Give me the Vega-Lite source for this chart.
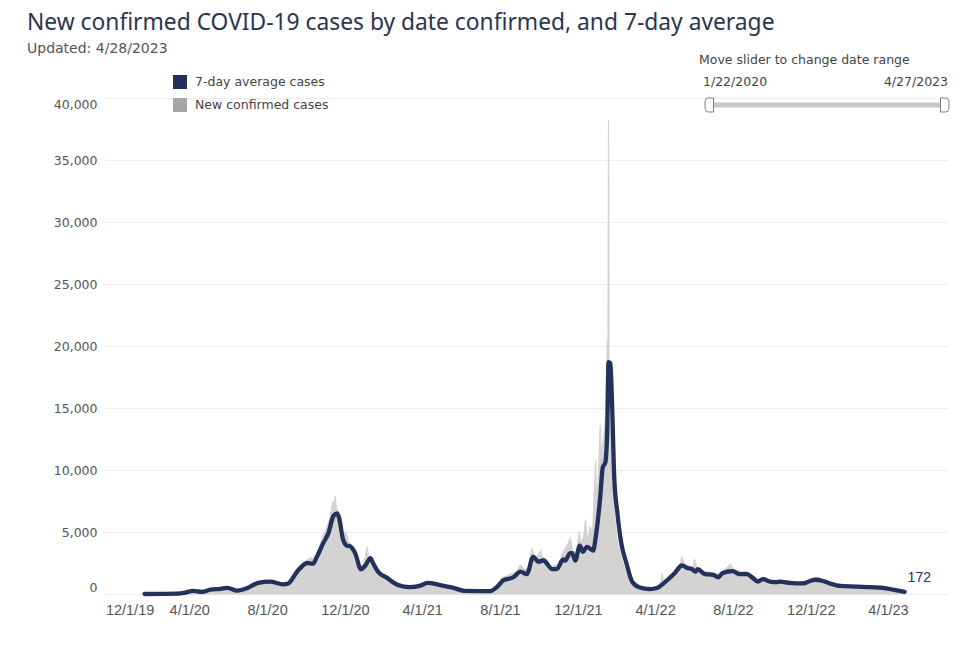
{
  "$schema": "https://vega.github.io/schema/vega-lite/v6.json",
  "width": 843,
  "height": 496,
  "autosize": {"type": "none"},
  "padding": {"left": 105, "top": 98, "right": 32, "bottom": 56},
  "background": "white",
  "title": {
    "text": "New confirmed COVID-19 cases by date confirmed, and 7-day average",
    "subtitle": "Updated: 4/28/2023",
    "anchor": "start",
    "frame": "group",
    "dx": -78,
    "offset": -2,
    "font": "Noto Sans",
    "fontSize": 22.8,
    "fontWeight": "normal",
    "color": "#2a3550",
    "subtitleFont": "DejaVu Sans",
    "subtitleFontSize": 14,
    "subtitleColor": "#555555",
    "subtitlePadding": 7
  },
  "config": {"view": {"stroke": null}},
  "datasets": {
    "daily": [
      {"date": "2020-01-22", "cases": 0}, {"date": "2020-03-10", "cases": 10}, {"date": "2020-03-25", "cases": 80},
      {"date": "2020-04-05", "cases": 320}, {"date": "2020-04-12", "cases": 180}, {"date": "2020-04-20", "cases": 260},
      {"date": "2020-05-01", "cases": 420}, {"date": "2020-05-10", "cases": 380}, {"date": "2020-05-20", "cases": 520},
      {"date": "2020-05-28", "cases": 640}, {"date": "2020-06-05", "cases": 450}, {"date": "2020-06-15", "cases": 330},
      {"date": "2020-06-25", "cases": 520}, {"date": "2020-07-05", "cases": 680}, {"date": "2020-07-12", "cases": 880},
      {"date": "2020-07-20", "cases": 1020}, {"date": "2020-07-28", "cases": 1120}, {"date": "2020-08-05", "cases": 1060},
      {"date": "2020-08-12", "cases": 1000}, {"date": "2020-08-20", "cases": 880}, {"date": "2020-08-28", "cases": 820},
      {"date": "2020-09-03", "cases": 950}, {"date": "2020-09-10", "cases": 1350}, {"date": "2020-09-17", "cases": 2050},
      {"date": "2020-09-24", "cases": 2350}, {"date": "2020-10-01", "cases": 2650}, {"date": "2020-10-08", "cases": 2950},
      {"date": "2020-10-14", "cases": 2750}, {"date": "2020-10-20", "cases": 3450}, {"date": "2020-10-27", "cases": 4600},
      {"date": "2020-11-03", "cases": 5400}, {"date": "2020-11-08", "cases": 6300}, {"date": "2020-11-12", "cases": 7500},
      {"date": "2020-11-13", "cases": 6900}, {"date": "2020-11-16", "cases": 7900}, {"date": "2020-11-17", "cases": 7100},
      {"date": "2020-11-20", "cases": 6600}, {"date": "2020-11-24", "cases": 5400}, {"date": "2020-11-28", "cases": 4500},
      {"date": "2020-12-02", "cases": 5000}, {"date": "2020-12-06", "cases": 4300}, {"date": "2020-12-10", "cases": 4000},
      {"date": "2020-12-15", "cases": 3500}, {"date": "2020-12-20", "cases": 2600}, {"date": "2020-12-26", "cases": 2050},
      {"date": "2020-12-31", "cases": 2600}, {"date": "2021-01-05", "cases": 3800}, {"date": "2021-01-07", "cases": 2900},
      {"date": "2021-01-14", "cases": 2650}, {"date": "2021-01-20", "cases": 2050}, {"date": "2021-01-27", "cases": 1650},
      {"date": "2021-02-05", "cases": 1350}, {"date": "2021-02-15", "cases": 920}, {"date": "2021-02-25", "cases": 680},
      {"date": "2021-03-10", "cases": 620}, {"date": "2021-03-20", "cases": 740}, {"date": "2021-03-30", "cases": 820},
      {"date": "2021-04-08", "cases": 1020}, {"date": "2021-04-15", "cases": 920}, {"date": "2021-04-29", "cases": 790},
      {"date": "2021-05-10", "cases": 630}, {"date": "2021-05-20", "cases": 530}, {"date": "2021-06-01", "cases": 360},
      {"date": "2021-06-10", "cases": 290}, {"date": "2021-06-25", "cases": 260}, {"date": "2021-07-10", "cases": 270},
      {"date": "2021-07-20", "cases": 360}, {"date": "2021-07-28", "cases": 720}, {"date": "2021-08-05", "cases": 1350},
      {"date": "2021-08-12", "cases": 1450}, {"date": "2021-08-20", "cases": 1650}, {"date": "2021-08-28", "cases": 1850},
      {"date": "2021-09-02", "cases": 2350}, {"date": "2021-09-08", "cases": 1950}, {"date": "2021-09-14", "cases": 2050},
      {"date": "2021-09-20", "cases": 3700}, {"date": "2021-09-22", "cases": 3300}, {"date": "2021-09-27", "cases": 2900},
      {"date": "2021-10-04", "cases": 3500}, {"date": "2021-10-06", "cases": 3000}, {"date": "2021-10-12", "cases": 2800},
      {"date": "2021-10-18", "cases": 2300}, {"date": "2021-10-25", "cases": 2250}, {"date": "2021-11-01", "cases": 2450},
      {"date": "2021-11-08", "cases": 3400}, {"date": "2021-11-15", "cases": 4000}, {"date": "2021-11-19", "cases": 4500},
      {"date": "2021-11-23", "cases": 3500}, {"date": "2021-11-29", "cases": 3300}, {"date": "2021-12-03", "cases": 5000},
      {"date": "2021-12-06", "cases": 4000}, {"date": "2021-12-10", "cases": 4600}, {"date": "2021-12-13", "cases": 6000},
      {"date": "2021-12-16", "cases": 4200}, {"date": "2021-12-20", "cases": 5400}, {"date": "2021-12-24", "cases": 5000},
      {"date": "2021-12-27", "cases": 8500}, {"date": "2021-12-29", "cases": 10800}, {"date": "2021-12-30", "cases": 7000},
      {"date": "2022-01-02", "cases": 9500}, {"date": "2022-01-05", "cases": 13600}, {"date": "2022-01-07", "cases": 11000},
      {"date": "2022-01-10", "cases": 12500}, {"date": "2022-01-13", "cases": 14000}, {"date": "2022-01-15", "cases": 17000},
      {"date": "2022-01-16", "cases": 20500}, {"date": "2022-01-17", "cases": 16000}, {"date": "2022-01-18", "cases": 38200},
      {"date": "2022-01-19", "cases": 15000}, {"date": "2022-01-21", "cases": 13000}, {"date": "2022-01-24", "cases": 9000},
      {"date": "2022-01-27", "cases": 6500}, {"date": "2022-01-31", "cases": 4500}, {"date": "2022-02-04", "cases": 3500},
      {"date": "2022-02-09", "cases": 2600}, {"date": "2022-02-14", "cases": 1800}, {"date": "2022-02-20", "cases": 1100},
      {"date": "2022-02-27", "cases": 700}, {"date": "2022-03-08", "cases": 560}, {"date": "2022-03-20", "cases": 430},
      {"date": "2022-04-01", "cases": 530}, {"date": "2022-04-10", "cases": 820}, {"date": "2022-04-12", "cases": 1700},
      {"date": "2022-04-14", "cases": 900}, {"date": "2022-04-24", "cases": 1420}, {"date": "2022-05-02", "cases": 1900},
      {"date": "2022-05-10", "cases": 2400}, {"date": "2022-05-13", "cases": 3000}, {"date": "2022-05-16", "cases": 2500},
      {"date": "2022-05-22", "cases": 2300}, {"date": "2022-05-30", "cases": 2200}, {"date": "2022-06-02", "cases": 2800},
      {"date": "2022-06-05", "cases": 2200}, {"date": "2022-06-12", "cases": 1900}, {"date": "2022-06-20", "cases": 1800},
      {"date": "2022-07-01", "cases": 1700}, {"date": "2022-07-10", "cases": 1600}, {"date": "2022-07-18", "cases": 1900},
      {"date": "2022-07-28", "cases": 2400}, {"date": "2022-08-02", "cases": 2000}, {"date": "2022-08-12", "cases": 1800},
      {"date": "2022-08-22", "cases": 1800}, {"date": "2022-09-01", "cases": 1500}, {"date": "2022-09-10", "cases": 1200},
      {"date": "2022-09-18", "cases": 1350}, {"date": "2022-09-28", "cases": 1150}, {"date": "2022-10-10", "cases": 1100},
      {"date": "2022-10-25", "cases": 1050}, {"date": "2022-11-10", "cases": 950}, {"date": "2022-11-25", "cases": 1000},
      {"date": "2022-12-05", "cases": 1250}, {"date": "2022-12-12", "cases": 1350}, {"date": "2022-12-20", "cases": 1150},
      {"date": "2022-12-31", "cases": 950}, {"date": "2023-01-10", "cases": 800}, {"date": "2023-01-25", "cases": 700},
      {"date": "2023-02-10", "cases": 680}, {"date": "2023-02-25", "cases": 650}, {"date": "2023-03-10", "cases": 620},
      {"date": "2023-03-22", "cases": 640}, {"date": "2023-04-01", "cases": 450}, {"date": "2023-04-10", "cases": 400},
      {"date": "2023-04-20", "cases": 300}, {"date": "2023-04-27", "cases": 200}
    ],
    "avg": [
      {"date": "2020-01-22", "avg": 0}, {"date": "2020-03-15", "avg": 30}, {"date": "2020-03-25", "avg": 100},
      {"date": "2020-04-07", "avg": 250}, {"date": "2020-04-21", "avg": 170}, {"date": "2020-05-04", "avg": 350},
      {"date": "2020-05-20", "avg": 420}, {"date": "2020-05-31", "avg": 500}, {"date": "2020-06-15", "avg": 280},
      {"date": "2020-07-01", "avg": 480}, {"date": "2020-07-18", "avg": 900}, {"date": "2020-08-06", "avg": 1000},
      {"date": "2020-08-26", "avg": 780}, {"date": "2020-09-03", "avg": 850}, {"date": "2020-09-17", "avg": 1800},
      {"date": "2020-10-03", "avg": 2500}, {"date": "2020-10-12", "avg": 2450}, {"date": "2020-10-18", "avg": 3000},
      {"date": "2020-10-28", "avg": 4100}, {"date": "2020-11-05", "avg": 4900}, {"date": "2020-11-13", "avg": 6300},
      {"date": "2020-11-19", "avg": 6500}, {"date": "2020-11-22", "avg": 6100}, {"date": "2020-11-28", "avg": 4400},
      {"date": "2020-12-04", "avg": 3900}, {"date": "2020-12-09", "avg": 3850}, {"date": "2020-12-17", "avg": 3300},
      {"date": "2020-12-26", "avg": 2000}, {"date": "2021-01-02", "avg": 2300}, {"date": "2021-01-10", "avg": 2900},
      {"date": "2021-01-14", "avg": 2500}, {"date": "2021-01-22", "avg": 1800}, {"date": "2021-02-05", "avg": 1300},
      {"date": "2021-02-21", "avg": 750}, {"date": "2021-03-13", "avg": 550}, {"date": "2021-03-28", "avg": 650},
      {"date": "2021-04-10", "avg": 900}, {"date": "2021-04-29", "avg": 720}, {"date": "2021-05-20", "avg": 500},
      {"date": "2021-06-07", "avg": 250}, {"date": "2021-07-17", "avg": 230}, {"date": "2021-07-27", "avg": 550},
      {"date": "2021-08-06", "avg": 1100}, {"date": "2021-08-22", "avg": 1350}, {"date": "2021-09-02", "avg": 1800},
      {"date": "2021-09-12", "avg": 1600}, {"date": "2021-09-22", "avg": 3000}, {"date": "2021-09-30", "avg": 2600},
      {"date": "2021-10-08", "avg": 2700}, {"date": "2021-10-22", "avg": 2000}, {"date": "2021-10-29", "avg": 2000},
      {"date": "2021-11-08", "avg": 2800}, {"date": "2021-11-11", "avg": 2700}, {"date": "2021-11-19", "avg": 3300},
      {"date": "2021-11-22", "avg": 3300}, {"date": "2021-11-27", "avg": 2700}, {"date": "2021-12-04", "avg": 3900},
      {"date": "2021-12-09", "avg": 3400}, {"date": "2021-12-15", "avg": 3800}, {"date": "2021-12-25", "avg": 3500},
      {"date": "2021-12-29", "avg": 4600}, {"date": "2022-01-05", "avg": 7800}, {"date": "2022-01-09", "avg": 10200},
      {"date": "2022-01-13", "avg": 10600}, {"date": "2022-01-16", "avg": 13200}, {"date": "2022-01-18", "avg": 18700},
      {"date": "2022-01-21", "avg": 18600}, {"date": "2022-01-24", "avg": 14600}, {"date": "2022-01-27", "avg": 9400},
      {"date": "2022-02-01", "avg": 6500}, {"date": "2022-02-07", "avg": 4100}, {"date": "2022-02-15", "avg": 2500},
      {"date": "2022-02-24", "avg": 1000}, {"date": "2022-03-07", "avg": 550}, {"date": "2022-03-24", "avg": 400},
      {"date": "2022-04-04", "avg": 480}, {"date": "2022-04-13", "avg": 800}, {"date": "2022-04-24", "avg": 1300},
      {"date": "2022-05-02", "avg": 1700}, {"date": "2022-05-13", "avg": 2300}, {"date": "2022-05-21", "avg": 2100},
      {"date": "2022-05-29", "avg": 2000}, {"date": "2022-06-03", "avg": 1800}, {"date": "2022-06-07", "avg": 2000},
      {"date": "2022-06-18", "avg": 1600}, {"date": "2022-07-01", "avg": 1550}, {"date": "2022-07-09", "avg": 1350},
      {"date": "2022-07-16", "avg": 1700}, {"date": "2022-07-31", "avg": 1850}, {"date": "2022-08-12", "avg": 1600},
      {"date": "2022-08-23", "avg": 1600}, {"date": "2022-09-01", "avg": 1300}, {"date": "2022-09-09", "avg": 1000},
      {"date": "2022-09-17", "avg": 1200}, {"date": "2022-09-28", "avg": 1000}, {"date": "2022-10-09", "avg": 950},
      {"date": "2022-10-14", "avg": 1000}, {"date": "2022-10-29", "avg": 900}, {"date": "2022-11-19", "avg": 850},
      {"date": "2022-11-30", "avg": 1050}, {"date": "2022-12-08", "avg": 1150}, {"date": "2022-12-20", "avg": 1050},
      {"date": "2022-12-31", "avg": 850}, {"date": "2023-01-16", "avg": 650}, {"date": "2023-02-11", "avg": 600},
      {"date": "2023-03-04", "avg": 550}, {"date": "2023-03-24", "avg": 500}, {"date": "2023-04-09", "avg": 350},
      {"date": "2023-04-27", "avg": 172}
    ],
    "slider": [
      {"date": "2020-01-22", "label": "1/22/2020"},
      {"date": "2023-04-27", "label": "4/27/2023"}
    ]
  },
  "layer": [
    {
      "encoding": {
        "x": {
          "field": "date",
          "type": "temporal",
          "scale": {
            "type": "utc",
            "domain": [
              {"year": 2019, "month": 11, "date": 21, "utc": true},
              {"year": 2023, "month": 7, "date": 4, "utc": true}
            ]
          },
          "axis": {
            "title": null,
            "values": [
              {"year": 2019, "month": 12, "date": 1, "utc": true},
              {"year": 2020, "month": 4, "date": 1, "utc": true},
              {"year": 2020, "month": 8, "date": 1, "utc": true},
              {"year": 2020, "month": 12, "date": 1, "utc": true},
              {"year": 2021, "month": 4, "date": 1, "utc": true},
              {"year": 2021, "month": 8, "date": 1, "utc": true},
              {"year": 2021, "month": 12, "date": 1, "utc": true},
              {"year": 2022, "month": 4, "date": 1, "utc": true},
              {"year": 2022, "month": 8, "date": 1, "utc": true},
              {"year": 2022, "month": 12, "date": 1, "utc": true},
              {"year": 2023, "month": 4, "date": 1, "utc": true}
            ],
            "format": "%-m/%-d/%y",
            "labelFont": "Liberation Sans",
            "labelFontSize": 14.5,
            "labelColor": "#555555",
            "labelPadding": 9,
            "labelFlush": 8,
            "labelFlushOffset": 6,
            "domain": false,
            "ticks": false,
            "grid": false
          }
        }
      },
      "layer": [
        {
          "data": {"name": "daily"},
          "mark": {"type": "area", "color": "#D3D3D3", "stroke": "#D3D3D3", "strokeWidth": 1.2, "interpolate": "linear"},
          "encoding": {
            "y": {
              "field": "cases",
              "type": "quantitative",
              "scale": {"domain": [0, 40000], "nice": false},
              "axis": {
                "title": null,
                "values": [0, 5000, 10000, 15000, 20000, 25000, 30000, 35000, 40000],
                "format": ",.0f",
                "labelFont": "DejaVu Sans",
                "labelFontSize": 12.5,
                "labelColor": "#555555",
                "labelPadding": 8,
                "labelFlush": true,
                "domain": false,
                "ticks": false,
                "gridColor": "#EDEDED"
              }
            }
          }
        },
        {
          "data": {"name": "avg"},
          "mark": {"type": "line", "strokeWidth": 4.3, "strokeJoin": "round", "strokeCap": "round", "interpolate": "monotone"},
          "encoding": {
            "y": {"field": "avg", "type": "quantitative"},
            "color": {
              "datum": "7-day average cases",
              "type": "nominal",
              "scale": {
                "domain": ["7-day average cases", "New confirmed cases"],
                "range": ["#22325A", "#A6A6A6"]
              },
              "legend": {
                "orient": "none",
                "legendX": 68,
                "legendY": -23,
                "title": null,
                "symbolType": "square",
                "symbolSize": 196,
                "symbolStrokeWidth": 0,
                "labelFont": "DejaVu Sans",
                "labelFontSize": 12.5,
                "labelColor": "#444444",
                "labelOffset": 8,
                "rowPadding": 9,
                "encode": {
                  "symbols": {
                    "update": {
                      "fill": {"scale": "color", "field": "value"},
                      "fillOpacity": {"value": 1},
                      "opacity": {"value": 1},
                      "strokeWidth": {"value": 0}
                    }
                  }
                }
              }
            }
          }
        },
        {
          "data": {"name": "avg"},
          "transform": [{"filter": "datum.avg === 172"}],
          "mark": {"type": "text", "align": "left", "baseline": "middle", "dx": 3, "dy": -14, "font": "Liberation Sans", "fontSize": 14, "color": "#22325A"},
          "encoding": {
            "y": {"field": "avg", "type": "quantitative"},
            "text": {"field": "avg", "type": "quantitative", "format": ",.0f"}
          }
        }
      ]
    },
    {
      "data": {"name": "slider"},
      "encoding": {
        "x": {
          "field": "date",
          "type": "temporal",
          "scale": {
            "type": "utc",
            "domain": [
              {"year": 2020, "month": 1, "date": 22, "utc": true},
              {"year": 2023, "month": 4, "date": 27, "utc": true}
            ],
            "range": [605, 839]
          },
          "axis": null
        }
      },
      "layer": [
        {
          "mark": {"type": "rule", "strokeWidth": 5, "color": "#C8C8C8"},
          "encoding": {
            "x": {"aggregate": "min", "field": "date", "type": "temporal"},
            "x2": {"aggregate": "max", "field": "date"},
            "y": {"value": 7}
          }
        },
        {
          "transform": [{"filter": "datum.label === '1/22/2020'"}],
          "mark": {
            "type": "point",
            "filled": true,
            "shape": "M0.5,-1 L-0.2,-1 Q-0.7,-1 -0.7,-0.4 L-0.7,0.4 Q-0.7,1 -0.2,1 L0.5,1 Z",
            "size": 196,
            "fill": "white",
            "fillOpacity": 1,
            "stroke": "#7F7F7F",
            "strokeWidth": 1,
            "opacity": 1
          },
          "encoding": {"y": {"value": 7}}
        },
        {
          "transform": [{"filter": "datum.label === '4/27/2023'"}],
          "mark": {
            "type": "point",
            "filled": true,
            "shape": "M-0.5,-1 L0.2,-1 Q0.7,-1 0.7,-0.4 L0.7,0.4 Q0.7,1 0.2,1 L-0.5,1 Z",
            "size": 196,
            "fill": "white",
            "fillOpacity": 1,
            "stroke": "#7F7F7F",
            "strokeWidth": 1,
            "opacity": 1
          },
          "encoding": {"y": {"value": 7}}
        },
        {
          "transform": [{"filter": "datum.label === '1/22/2020'"}],
          "mark": {"type": "text", "align": "left", "baseline": "middle", "dx": -7, "font": "DejaVu Sans", "fontSize": 12.5, "color": "#444444"},
          "encoding": {"y": {"value": -16}, "text": {"field": "label"}}
        },
        {
          "transform": [{"filter": "datum.label === '4/27/2023'"}],
          "mark": {"type": "text", "align": "right", "baseline": "middle", "dx": 4, "font": "DejaVu Sans", "fontSize": 12.5, "color": "#444444"},
          "encoding": {"y": {"value": -16}, "text": {"field": "label"}}
        },
        {
          "transform": [{"filter": "datum.label === '1/22/2020'"}],
          "mark": {"type": "text", "align": "left", "baseline": "middle", "dx": -11, "font": "DejaVu Sans", "fontSize": 12.5, "color": "#444444", "text": "Move slider to change date range"},
          "encoding": {"y": {"value": -38}}
        }
      ]
    }
  ],
  "resolve": {"scale": {"x": "independent"}}
}
